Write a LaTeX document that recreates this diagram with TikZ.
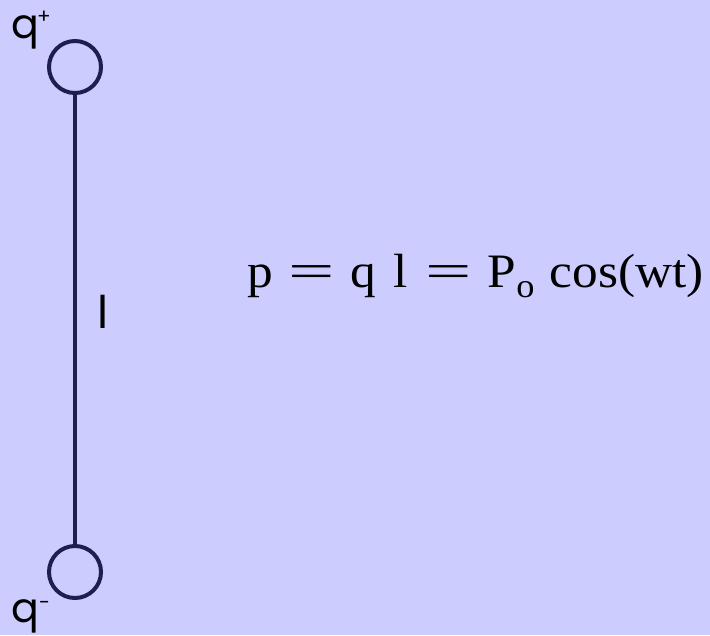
\documentclass[tikz,border=0pt]{standalone}
\usepackage{fontspec}
\setmainfont{Liberation Serif}
\newfontfamily\handfont{Poppins}
\definecolor{bg}{HTML}{CCCCFF}
\definecolor{navy}{HTML}{1F1F4F}
\begin{document}
\begin{tikzpicture}[x=1pt,y=-1pt,
 charge/.style={circle,draw=navy,line width=4pt,minimum size=52pt,inner sep=0pt},
 hand/.style={font=\handfont\fontsize{41}{41}\selectfont, inner sep=0pt, text=black},
 sign/.style={font=\handfont\fontsize{20}{20}\selectfont, inner sep=0pt, text=black},
 eq/.style={font=\fontsize{48}{58}\selectfont, inner sep=0pt, text=black}]
\fill[bg] (0,0) rectangle (710,635);
\useasboundingbox (0,0) rectangle (710,635);
\node[charge] (qp) at (75,67) {};
\node[charge] (qm) at (75,572) {};
\draw[navy,line width=4.5pt] (qp.south) -- (qm.north);
\node[hand,anchor=base west] (lq) at (11,38) {q};
\node[sign,anchor=base west] (lqp) at (37,23) {+};
\node[hand,anchor=base west] (lqm) at (11,622) {q};
\node[sign,anchor=base west] (lqm2) at (39,609) {-};
\node[hand,anchor=base west,font=\handfont\fontsize{45}{45}\selectfont] (ll) at (97,328) {l};
\node[eq,anchor=base west] (eqn) at (247,287) {\scalebox{1.07}[1]{p\hspace{0.3em}\scalebox{1.6}[1]{=}\hspace{0.3em}q\hspace{0.35em}l\hspace{0.35em}\scalebox{1.6}[1]{=}\hspace{0.3em}P\raisebox{-10pt}{\fontsize{34}{34}\selectfont o}\hspace{0.3em}cos(wt)}};
\end{tikzpicture}
\end{document}
